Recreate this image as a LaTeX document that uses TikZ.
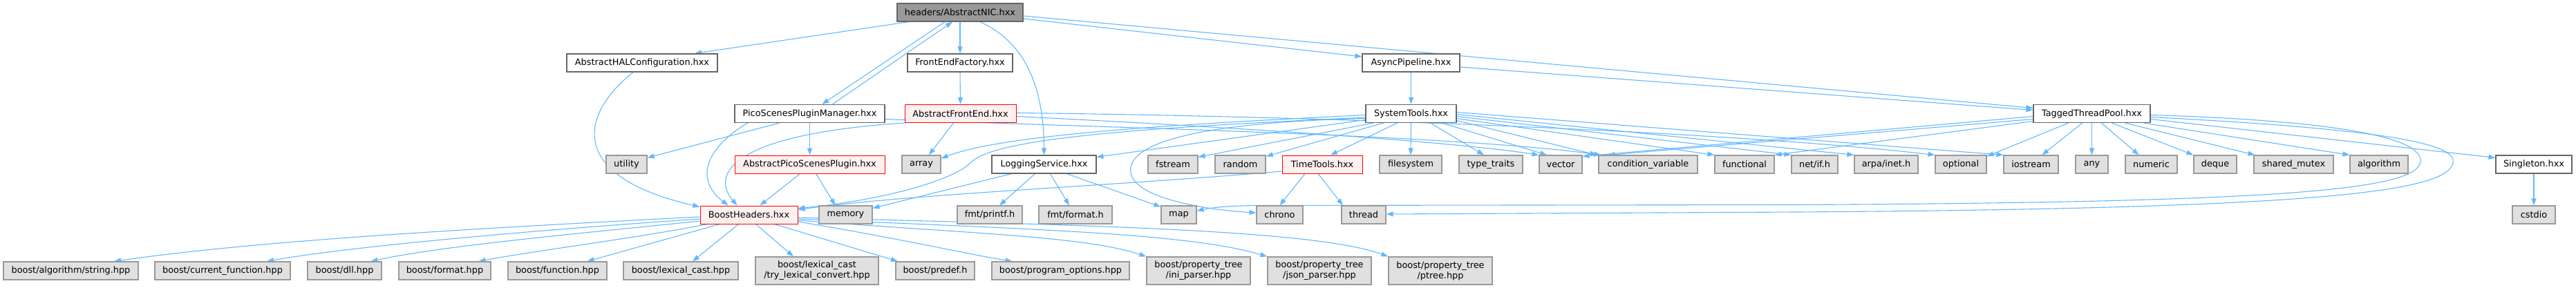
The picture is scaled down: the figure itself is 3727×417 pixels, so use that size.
\documentclass[tikz,border=0pt]{standalone}
\usepackage{fontspec}
\setmainfont{DejaVu Sans}
\usetikzlibrary{arrows.meta,backgrounds}
\definecolor{eblue}{HTML}{63B8FF}
\definecolor{cgray}{HTML}{999999}
\definecolor{cdark}{HTML}{666666}
\definecolor{cfill}{HTML}{E0E0E0}
\definecolor{rfill}{HTML}{FFF0F0}
\newcommand\dxfont{\fontsize{12.85pt}{15pt}\selectfont}
\tikzset{
  box/.style={draw=cdark, line width=1.2pt, fill=white, minimum height=26pt, inner sep=0pt, font=\dxfont, text=black},
  gbox/.style={box, draw=cgray, fill=cfill},
  rbox/.style={box, draw=red, fill=rfill, line width=1pt},
  rootbox/.style={box, draw=cdark, fill=cgray},
  twoline/.style={gbox, minimum height=40pt, align=center},
  edge/.style={draw=eblue, line width=1.1pt, -{Triangle[length=10pt,width=7pt]}},
}
\begin{document}
\begin{tikzpicture}[x=1pt,y=-1pt]
\useasboundingbox (0,0) rectangle (3727,417);
% row 0
\node[rootbox, minimum width=182pt] (root) at (1389,18) {headers/AbstractNIC.hxx};
% row 1
\node[box, minimum width=218pt] (hal) at (929,91) {AbstractHALConfiguration.hxx};
\node[box, minimum width=152pt] (ffac) at (1389,91) {FrontEndFactory.hxx};
\node[box, minimum width=141pt] (async) at (2041.5,91) {AsyncPipeline.hxx};
% row 2
\node[box, minimum width=217pt] (pm) at (1171.5,164.5) {PicoScenesPluginManager.hxx};
\node[rbox, minimum width=161pt] (afe) at (1389.5,164.5) {AbstractFrontEnd.hxx};
\node[box, minimum width=131pt] (sys) at (2041.5,164.5) {SystemTools.hxx};
\node[box, minimum width=169pt] (ttp) at (3026.5,164.5) {TaggedThreadPool.hxx};
% row 3
\node[gbox, minimum width=59pt] (utility) at (906.5,238) {utility};
\node[rbox, minimum width=217pt] (aplug) at (1171.5,238) {AbstractPicoScenesPlugin.hxx};
\node[gbox, minimum width=56pt] (array) at (1333,238) {array};
\node[box, minimum width=151pt] (log) at (1510.5,238) {LoggingService.hxx};
\node[gbox, minimum width=72pt] (fstream) at (1697,238) {fstream};
\node[gbox, minimum width=73pt] (random) at (1794.5,238) {random};
\node[rbox, minimum width=116pt] (time) at (1913,238) {TimeTools.hxx};
\node[gbox, minimum width=90pt] (fsys) at (2041,238) {filesystem};
\node[gbox, minimum width=92pt] (tt) at (2157,238) {type\_traits};
\node[gbox, minimum width=62pt] (vector) at (2258,238) {vector};
\node[gbox, minimum width=143pt] (cv) at (2384.5,238) {condition\_variable};
\node[gbox, minimum width=86pt] (func) at (2524,238) {functional};
\node[gbox, minimum width=67pt] (netif) at (2625.5,238) {net/if.h};
\node[gbox, minimum width=92pt] (arpa) at (2729,238) {arpa/inet.h};
\node[gbox, minimum width=74pt] (optional) at (2837,238) {optional};
\node[gbox, minimum width=79pt] (iostream) at (2938.5,238) {iostream};
\node[gbox, minimum width=47pt] (any) at (3026.5,238) {any};
\node[gbox, minimum width=75pt] (numeric) at (3112.5,238) {numeric};
\node[gbox, minimum width=62pt] (deque) at (3205,238) {deque};
\node[gbox, minimum width=115pt] (shmutex) at (3318.5,238) {shared\_mutex};
\node[gbox, minimum width=84pt] (algo) at (3442,238) {algorithm};
\node[box, minimum width=110pt] (single) at (3666,238) {Singleton.hxx};
% row 4
\node[rbox, minimum width=141pt] (boost) at (1083.5,311) {BoostHeaders.hxx};
\node[gbox, minimum width=77pt] (memory) at (1223.5,311) {memory};
\node[gbox, minimum width=94pt] (printf) at (1432,311) {fmt/printf.h};
\node[gbox, minimum width=106pt] (format) at (1556,311) {fmt/format.h};
\node[gbox, minimum width=51pt] (map) at (1705.5,311) {map};
\node[gbox, minimum width=67pt] (chrono) at (1851.5,311) {chrono};
\node[gbox, minimum width=64pt] (thread) at (1973,311) {thread};
\node[gbox, minimum width=62pt] (cstdio) at (3666,311) {cstdio};
% row 5
\node[gbox, minimum width=195pt] (balg) at (102.5,392) {boost/algorithm/string.hpp};
\node[gbox, minimum width=196pt] (bcur) at (322,392) {boost/current\_function.hpp};
\node[gbox, minimum width=107pt] (bdll) at (498.5,392) {boost/dll.hpp};
\node[gbox, minimum width=133pt] (bfmt) at (643.5,392) {boost/format.hpp};
\node[gbox, minimum width=143pt] (bfunc) at (806.5,392) {boost/function.hpp};
\node[gbox, minimum width=166pt] (blex) at (985,392) {boost/lexical\_cast.hpp};
\node[twoline, minimum width=178pt] (btry) at (1182,392) {boost/lexical\_cast\\/try\_lexical\_convert.hpp};
\node[gbox, minimum width=114pt] (bpredef) at (1353,392) {boost/predef.h};
\node[gbox, minimum width=199pt] (bpo) at (1534.5,392) {boost/program\_options.hpp};
\node[twoline, minimum width=150pt] (bini) at (1734,392) {boost/property\_tree\\/ini\_parser.hpp};
\node[twoline, minimum width=150pt] (bjson) at (1909,392) {boost/property\_tree\\/json\_parser.hpp};
\node[twoline, minimum width=150pt] (bptree) at (2084,392) {boost/property\_tree\\/ptree.hpp};

\begin{pgfonlayer}{background}
% from root
\draw[edge] ([xshift=-74pt]root.south) -- ([xshift=76pt]hal.north);
\draw[edge] ([xshift=-22pt]root.south) -- ([xshift=18pt]pm.north);
\draw[edge] ([xshift=33pt]pm.north) -- ([xshift=-11pt]root.south);
\draw[edge] (root.south) -- (ffac.north);
\draw[edge] ([xshift=29pt]root.south) .. controls (1480,60) and (1510,120) .. (log.north);
\draw[edge] ([yshift=-9pt]root.east) -- ([yshift=9pt]async.west);
\draw[edge] ([yshift=-5pt]root.east) -- ([yshift=8pt]ttp.west);
\draw[edge] ([yshift=-6pt]async.east) -- ([yshift=5pt]ttp.west);
\draw[edge] (async.south) -- (sys.north);
\draw[edge] (ffac.south) -- (afe.north);
% HAL
\draw[edge] ([xshift=-13pt]hal.south) .. controls (840,165) and (818,255) .. ([yshift=-2pt]boost.north west);
% plugin manager
\draw[edge] ([xshift=-90pt]pm.south) .. controls (1020,215) and (1005,260) .. ([xshift=-30pt]boost.north);
\draw[edge] ([xshift=-44pt]pm.south) -- ([yshift=-4pt]utility.north east);
\draw[edge] (pm.south) -- (aplug.north);
\draw[edge] ([yshift=-8pt]pm.east) .. controls (1600,185) and (2100,195) .. ([xshift=4pt]cv.north west);
% abstract front end
\draw[edge] (afe.south west) .. controls (1050,195) and (1030,255) .. ([xshift=-17pt]boost.north);
\draw[edge] ([xshift=-10pt]afe.south) -- ([xshift=11pt]array.north);
\draw[edge] ([yshift=-4pt]afe.east) .. controls (1800,185) and (2100,205) .. (vector.north west);
\draw[edge] ([yshift=1pt]afe.east) .. controls (1900,168) and (2500,190) .. (optional.north west);
% abstract plugin
\draw[edge] ([xshift=-14pt]aplug.south) -- ([xshift=16pt]boost.north);
\draw[edge] ([xshift=9pt]aplug.south) -- ([xshift=-15pt]memory.north);
% logging service
\draw[edge] ([xshift=-47pt]log.south) -- ([yshift=-4pt]memory.north east);
\draw[edge] ([xshift=-13pt]log.south) -- ([xshift=14pt]printf.north);
\draw[edge] ([xshift=9pt]log.south) -- ([xshift=-9pt]format.north);
\draw[edge] ([xshift=33pt]log.south) -- ([yshift=-2pt]map.north west);
% system tools
\draw[edge] ([yshift=-5.5pt]sys.west) .. controls (1650,185) and (1440,200) .. (1405,235) .. controls (1375,265) and (1260,292) .. ([yshift=-4pt]boost.north east);
\draw[edge] ([yshift=-2pt]sys.west) .. controls (1700,180) and (1450,195) .. ([yshift=-5pt]array.north east);
\draw[edge] ([yshift=-9pt]sys.west) -- ([yshift=-3pt]log.north east);
\draw[edge] ([xshift=-55pt]sys.south) -- ([yshift=-3pt]fstream.north east);
\draw[edge] ([xshift=-40pt]sys.south) -- ([yshift=-2pt]random.north east);
\draw[edge] ([xshift=-20pt]sys.south) -- ([xshift=12pt]time.north);
\draw[edge] ([yshift=-7pt]sys.west) .. controls (1700,178) and (1630,215) .. (1636,250) .. controls (1642,290) and (1760,305) .. ([yshift=3pt]chrono.west);
\draw[edge] (sys.south) -- (fsys.north);
\draw[edge] ([xshift=28pt]sys.south) -- ([xshift=-10pt]tt.north);
\draw[edge] ([xshift=45pt]sys.south) -- ([xshift=-20pt]vector.north);
\draw[edge] ([yshift=-10pt]sys.east) -- ([xshift=-2pt]cv.north west);
\draw[edge] ([yshift=-7pt]sys.east) -- (func.north west);
\draw[edge] ([yshift=-4pt]sys.east) -- (netif.north west);
\draw[edge] ([yshift=-1pt]sys.east) -- (arpa.north west);
\draw[edge] ([yshift=2pt]sys.east) -- (iostream.north west);
% time tools
\draw[edge] ([yshift=-10pt]time.west) .. controls (1600,270) and (1330,280) .. ([yshift=-6pt]boost.north east);
\draw[edge] ([xshift=-25pt]time.south) -- (chrono.north);
\draw[edge] ([xshift=-6pt]time.south) -- ([xshift=-30pt]thread.north);
% tagged thread pool
\draw[edge] ([yshift=-4pt]ttp.west) -- ([yshift=-2pt]vector.north east);
\draw[edge] ([yshift=-8pt]ttp.west) -- ([xshift=14pt]cv.north west);
\draw[edge] ([yshift=-11pt]ttp.west) -- (func.north east);
\draw[edge] ([xshift=-34pt]ttp.south) -- ([yshift=-2pt]optional.north east);
\draw[edge] ([xshift=-14pt]ttp.south) -- ([xshift=16pt]iostream.north);
\draw[edge] (ttp.south) -- (any.north);
\draw[edge] ([xshift=14pt]ttp.south) -- ([xshift=-18pt]numeric.north);
\draw[edge] ([xshift=29pt]ttp.south) -- (deque.north west);
\draw[edge] ([xshift=48pt]ttp.south) -- ([xshift=2pt]shmutex.north west);
\draw[edge] ([xshift=75pt]ttp.south) -- (algo.north west);
\draw[edge] ([yshift=-8pt]ttp.east) -- ([yshift=-4pt]single.north west);
\draw[edge] ([yshift=-2pt]ttp.east) .. controls (3420,176) and (3505,205) .. (3502,234) .. controls (3498,275) and (3300,293) .. (2600,296.5) -- (1820,297.5) .. controls (1765,298) and (1748,302) .. ([yshift=6pt]map.east);
\draw[edge] ([yshift=-5pt]ttp.east) .. controls (3470,188) and (3555,210) .. (3549,236) .. controls (3540,278) and (3350,302) .. (2600,307) -- ([yshift=1pt]thread.east);
\draw[edge] (single.south) -- (cstdio.north);
% boost headers
\draw[edge] ([yshift=-3pt]boost.west) .. controls (600,335) and (350,352) .. ([xshift=62.5pt]balg.north);
\draw[edge] ([yshift=-6pt]boost.west) .. controls (750,335) and (500,358) .. ([xshift=64pt]bcur.north);
\draw[edge] ([yshift=-9pt]boost.west) .. controls (820,340) and (640,356) .. ([xshift=38pt]bdll.north);
\draw[edge] ([xshift=-60pt]boost.south) .. controls (920,345) and (780,362) .. ([xshift=49pt]bfmt.north);
\draw[edge] ([xshift=-42pt]boost.south) -- ([xshift=43pt]bfunc.north);
\draw[edge] ([xshift=-15pt]boost.south) -- ([xshift=17pt]blex.north);
\draw[edge] ([xshift=10pt]boost.south) -- ([xshift=-34pt]btry.north);
\draw[edge] ([xshift=37pt]boost.south) -- ([xshift=-54pt]bpredef.north);
\draw[edge] ([yshift=-10pt]boost.east) .. controls (1300,345) and (1400,368) .. ([xshift=-70pt]bpo.north);
\draw[edge] ([yshift=-8pt]boost.east) .. controls (1400,338) and (1570,342) .. (bini.north west);
\draw[edge] ([yshift=-6pt]boost.east) .. controls (1500,332) and (1720,338) .. (bjson.north west);
\draw[edge] ([yshift=-4pt]boost.east) .. controls (1560,326) and (1900,332) .. (bptree.north west);
\end{pgfonlayer}
\end{tikzpicture}
\end{document}
